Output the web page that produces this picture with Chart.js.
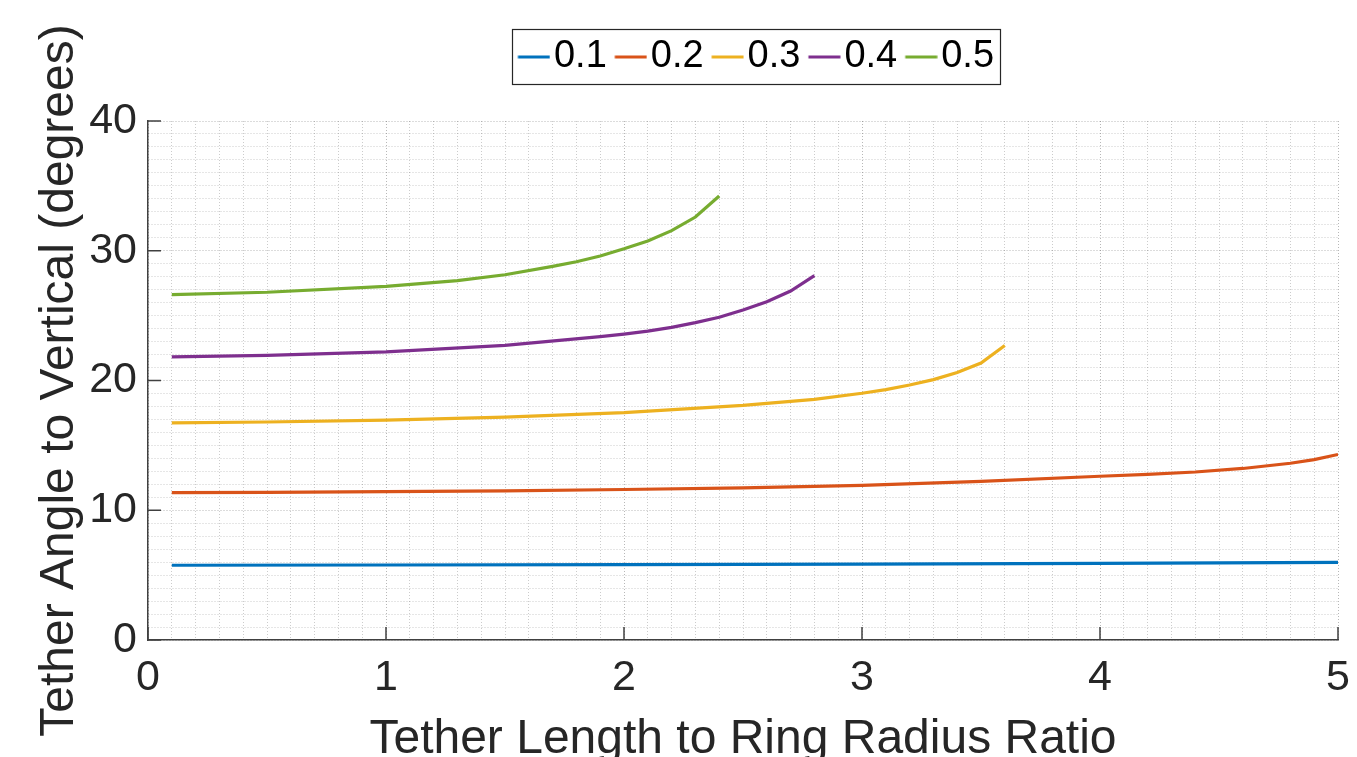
<!DOCTYPE html>
<html><head><meta charset="utf-8">
<script src="https://cdn.jsdelivr.net/npm/chart.js@4"></script>
<style>html,body{margin:0;padding:0;background:#fff;overflow:hidden}#wrap{width:1357px;height:757px;position:relative}</style>
</head><body><div id="wrap"><canvas id="c"></canvas></div>
<script>
// ---- data ----
const seriesLabels = ['0.1', '0.2', '0.3', '0.4', '0.5'];
const x01 = [0.1, 1, 2, 3, 4, 5];
const y01 = [5.76, 5.78, 5.81, 5.85, 5.90, 5.98];
const x02 = [0.1, 0.5, 1.0, 1.5, 2.0, 2.5, 3.0, 3.5, 4.0, 4.2, 4.4, 4.6, 4.8, 4.9, 5.0];
const y02 = [11.36, 11.38, 11.43, 11.50, 11.60, 11.72, 11.92, 12.22, 12.62, 12.77, 12.95, 13.22, 13.62, 13.90, 14.30];
const x03 = [0.1, 0.5, 1.0, 1.5, 2.0, 2.5, 2.8, 3.0, 3.1, 3.2, 3.3, 3.4, 3.5, 3.6];
const y03 = [16.74, 16.80, 16.95, 17.18, 17.52, 18.08, 18.55, 19.02, 19.30, 19.65, 20.07, 20.62, 21.35, 22.70];
const x04 = [0.1, 0.5, 1.0, 1.5, 1.9, 2.0, 2.1, 2.2, 2.3, 2.4, 2.5, 2.6, 2.7, 2.8];
const y04 = [21.82, 21.93, 22.20, 22.70, 23.38, 23.58, 23.80, 24.10, 24.46, 24.87, 25.43, 26.07, 26.90, 28.08];
const x05 = [0.1, 0.5, 1.0, 1.3, 1.5, 1.7, 1.8, 1.9, 2.0, 2.1, 2.2, 2.3, 2.4];
const y05 = [26.62, 26.80, 27.25, 27.70, 28.15, 28.80, 29.15, 29.60, 30.15, 30.75, 31.55, 32.60, 34.22];
const seriesX = [x01, x02, x03, x04, x05];
const seriesY = [y01, y02, y03, y04, y05];
const xMajorTicks = [0, 1, 2, 3, 4, 5];
const yMajorTicks = [0, 10, 20, 30, 40];
const xTitle = 'Tether Length to Ring Radius Ratio';
const yTitle = 'Tether Angle to Vertical (degrees)';

// ---- styling ----
const colors = ['#0072BD', '#D95319', '#EDB120', '#7E2F8E', '#77AC30'];
const FONT = '"Liberation Sans", Arial, Helvetica, sans-serif';
Chart.defaults.font.family = FONT;
Chart.defaults.color = '#262626';

function legendLine(color) {
  const c = document.createElement('canvas');
  c.width = 48; c.height = 6;
  const g = c.getContext('2d');
  g.strokeStyle = color; g.lineWidth = 3;
  g.beginPath(); g.moveTo(15.5, 3); g.lineTo(47.5, 3); g.stroke();
  return c;
}

const datasets = seriesLabels.map((lab, i) => ({
  label: lab,
  data: seriesX[i].map((x, j) => ({x: x, y: seriesY[i][j]})),
  borderColor: colors[i],
  backgroundColor: colors[i],
  borderWidth: 3.2,
  pointRadius: 0,
  pointHoverRadius: 0,
  pointStyle: legendLine(colors[i]),
  tension: 0,
  fill: false
}));

const isInt = v => Math.abs(v - Math.round(v)) < 1e-6;

const decor = {
  id: 'decor',
  afterLayout(chart) {
    const lg = chart.legend;
    if (lg) { lg.left += 13; lg.right += 13; }
  },
  afterDraw(chart) {
    const {ctx, chartArea, scales} = chart;
    ctx.save();
    ctx.strokeStyle = '#404040';
    ctx.lineWidth = 1.5;
    ctx.beginPath();
    xMajorTicks.forEach(v => {
      const px = scales.x.getPixelForValue(v);
      ctx.moveTo(px, chartArea.bottom); ctx.lineTo(px, chartArea.bottom - 13);
    });
    yMajorTicks.forEach(v => {
      const py = scales.y.getPixelForValue(v);
      ctx.moveTo(chartArea.left, py); ctx.lineTo(chartArea.left + 13, py);
    });
    ctx.stroke();
    const hb = chart.legend && chart.legend.legendHitBoxes;
    if (hb && hb.length) {
      const l = hb[0].left - 6, r = hb[hb.length - 1].left + hb[hb.length - 1].width + 6;
      const t = hb[0].top - 9, b = hb[0].top + hb[0].height + 8;
      ctx.strokeStyle = '#262626';
      ctx.lineWidth = 1.2;
      ctx.strokeRect(Math.round(l) + 0.5, Math.round(t) + 0.5, Math.round(r - l), Math.round(b - t));
    }
    ctx.restore();
  }
};

new Chart(document.getElementById('c'), {
  type: 'line',
  data: {datasets},
  plugins: [decor],
  options: {
    responsive: true,
    maintainAspectRatio: false,
    animation: false,
    layout: {padding: {top: 30, right: 19, bottom: 0, left: 0}},
    plugins: {
      tooltip: {enabled: false},
      title: {display: true, text: '', position: 'top', weight: 500, fullSize: false,
              font: {size: 10, lineHeight: 1}, padding: {top: 0, bottom: 25}},
      legend: {
        position: 'top', fullSize: false, align: 'center',
        labels: {
          usePointStyle: true, pointStyleWidth: 17, padding: 8,
          color: '#000', font: {size: 38, family: FONT}
        }
      }
    },
    scales: {
      x: {
        type: 'linear', min: 0, max: 5,
        afterFit(s) { s.height = 117; s.paddingLeft = 0; s.paddingRight = 0; },
        ticks: {
          stepSize: 0.1, autoSkip: false, maxRotation: 0, minRotation: 0, padding: 12,
          font: {size: 43}, color: '#262626',
          callback: v => isInt(v) ? String(Math.round(v)) : ''
        },
        grid: {
          drawTicks: false, lineWidth: 1,
          color: c => isInt(c.tick.value) ? 'rgba(0,0,0,0.28)' : 'rgba(0,0,0,0.20)'
        },
        border: {display: true, color: '#404040', width: 1.5, dash: [1, 2]},
        title: {display: true, text: xTitle, color: '#262626',
                font: {size: 48, lineHeight: 1}, padding: {top: 0, bottom: -7}}
      },
      y: {
        type: 'linear', min: 0, max: 40,
        afterFit(s) { s.width = 148; s.paddingTop = 0; s.paddingBottom = 0; },
        ticks: {
          stepSize: 1, autoSkip: false, padding: 11,
          font: {size: 43}, color: '#262626',
          callback: v => (Math.round(v) % 10 === 0) ? String(Math.round(v)) : ''
        },
        grid: {
          drawTicks: false, lineWidth: 1,
          color: c => (Math.round(c.tick.value) % 10 === 0) ? 'rgba(0,0,0,0.28)' : 'rgba(0,0,0,0.20)'
        },
        border: {display: true, color: '#404040', width: 1.5, dash: [1, 2]},
        title: {display: true, text: yTitle, color: '#262626',
                font: {size: 48, lineHeight: 1}, padding: {top: 36, bottom: 0}}
      }
    }
  }
});
</script>
</body></html>
